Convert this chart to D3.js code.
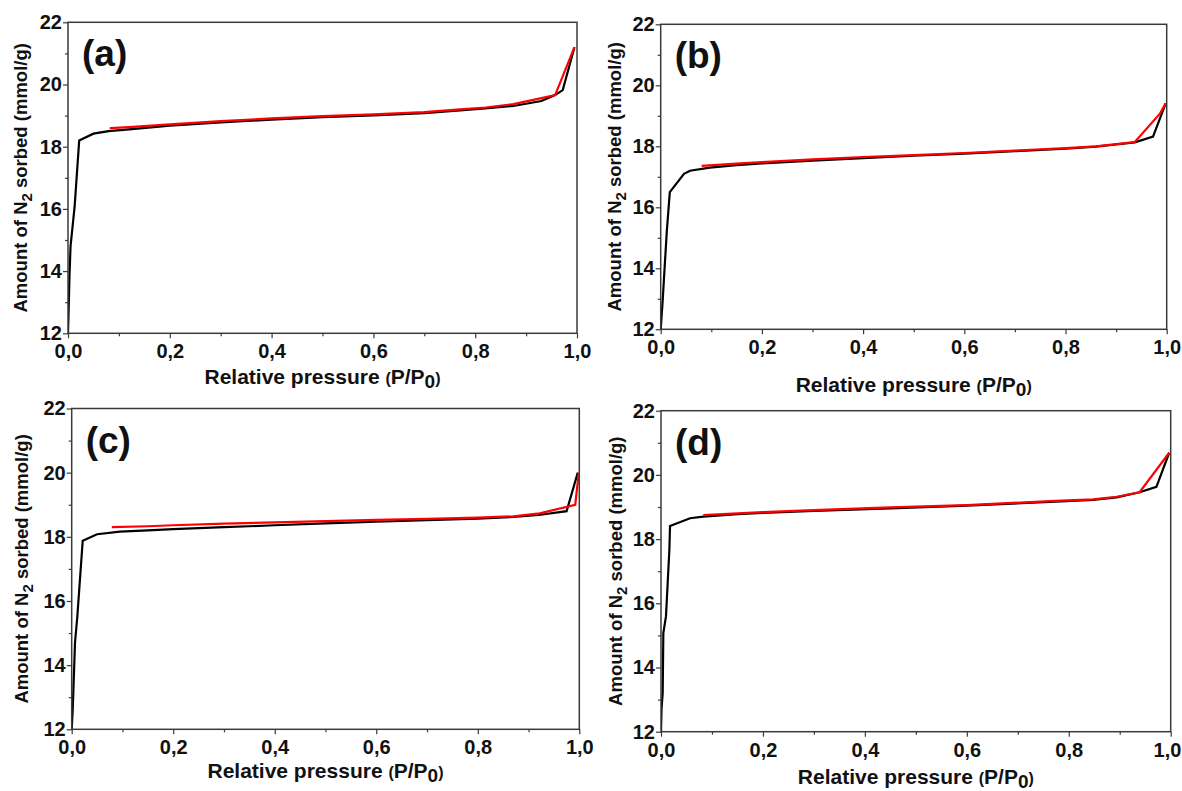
<!DOCTYPE html>
<html>
<head>
<meta charset="utf-8">
<script src="https://cdn.jsdelivr.net/npm/d3@7"></script>
<style>
  html, body { margin: 0; padding: 0; background: #fff; }
  svg { display: block; }
  text { font-family: "Liberation Sans", Arial, sans-serif; font-weight: bold; fill: #111; }
</style>
</head>
<body>
<svg id="chart" width="1182" height="791"></svg>
<script>
// ---------- data ----------
const panelLabels = ["(a)", "(b)", "(c)", "(d)"];
const xTickValues = [0, 0.2, 0.4, 0.6, 0.8, 1.0];
const xMinorTicks = [0.1, 0.3, 0.5, 0.7, 0.9];
const yTickValues = [12, 14, 16, 18, 20, 22];
const yMinorTicks = [13, 15, 17, 19, 21];

// (a)
const pressA_ads = [0, 0.001, 0.003, 0.005, 0.013, 0.022, 0.05, 0.08, 0.12, 0.2, 0.3, 0.4, 0.5, 0.6, 0.7, 0.77, 0.82, 0.875, 0.93, 0.957, 0.972, 0.995];
const amtA_ads   = [12.0, 12.6, 13.9, 14.8, 16.07, 18.2, 18.42, 18.5, 18.56, 18.68, 18.78, 18.87, 18.95, 19.01, 19.08, 19.17, 19.23, 19.31, 19.47, 19.66, 19.82, 21.2];
const pressA_des = [0.082, 0.12, 0.2, 0.3, 0.4, 0.5, 0.6, 0.7, 0.77, 0.82, 0.875, 0.921, 0.957, 0.995];
const amtA_des   = [18.6, 18.63, 18.72, 18.82, 18.91, 18.98, 19.04, 19.11, 19.2, 19.26, 19.37, 19.53, 19.66, 21.2];

// (b)
const pressB_ads = [0, 0.004, 0.0066, 0.012, 0.018, 0.046, 0.058, 0.097, 0.15, 0.2, 0.3, 0.4, 0.5, 0.6, 0.7, 0.8, 0.86, 0.9, 0.937, 0.973, 0.998];
const amtB_ads   = [12.0, 12.96, 13.7, 15.2, 16.5, 17.1, 17.2, 17.3, 17.38, 17.44, 17.53, 17.61, 17.69, 17.76, 17.84, 17.92, 17.99, 18.06, 18.13, 18.32, 19.41];
const pressB_des = [0.081, 0.15, 0.2, 0.3, 0.4, 0.5, 0.6, 0.7, 0.8, 0.86, 0.9, 0.937, 0.987, 0.998];
const amtB_des   = [17.36, 17.43, 17.48, 17.57, 17.65, 17.71, 17.78, 17.86, 17.94, 18.0, 18.07, 18.14, 19.08, 19.41];

// (c)
const pressC_ads = [0, 0.002, 0.0065, 0.011, 0.0217, 0.05, 0.095, 0.15, 0.2, 0.3, 0.4, 0.5, 0.6, 0.7, 0.8, 0.87, 0.92, 0.975, 0.997];
const amtC_ads   = [12.0, 12.6, 14.7, 15.5, 17.88, 18.08, 18.16, 18.2, 18.24, 18.3, 18.36, 18.42, 18.47, 18.52, 18.57, 18.62, 18.68, 18.8, 20.0];
const pressC_des = [0.079, 0.15, 0.2, 0.3, 0.4, 0.5, 0.6, 0.7, 0.8, 0.87, 0.922, 0.992, 0.999];
const amtC_des   = [18.3, 18.33, 18.36, 18.41, 18.45, 18.49, 18.53, 18.56, 18.6, 18.64, 18.73, 19.0, 20.0];

// (d)
const pressD_ads = [0, 0.001, 0.0033, 0.0046, 0.0098, 0.0164, 0.0177, 0.057, 0.083, 0.15, 0.2, 0.3, 0.45, 0.6, 0.763, 0.848, 0.894, 0.939, 0.972, 0.997];
const amtD_ads   = [12.0, 12.7, 13.2, 15.07, 15.6, 17.66, 18.41, 18.65, 18.7, 18.78, 18.82, 18.88, 18.96, 19.04, 19.16, 19.22, 19.3, 19.46, 19.63, 20.69];
const pressD_des = [0.083, 0.15, 0.2, 0.3, 0.45, 0.6, 0.763, 0.848, 0.894, 0.939, 0.997];
const amtD_des   = [18.75, 18.8, 18.84, 18.9, 18.99, 19.06, 19.18, 19.24, 19.32, 19.46, 20.69];

// ---------- layout ----------
const W = 1182;
const panels = [
  { label: panelLabels[0], x0: 68,    x1: 577,    y0: 22.3,  y1: 333.3, ylabX: 20,  xlabY: 384,
    ads: [pressA_ads, amtA_ads], des: [pressA_des, amtA_des] },
  { label: panelLabels[1], x0: 660.7, x1: 1166.7, y0: 24.3,  y1: 329.3, ylabX: 614, xlabY: 392,
    ads: [pressB_ads, amtB_ads], des: [pressB_des, amtB_des] },
  { label: panelLabels[2], x0: 71.7,  x1: 579.3,  y0: 408.5, y1: 729.3, ylabX: 21,  xlabY: 778,
    ads: [pressC_ads, amtC_ads], des: [pressC_des, amtC_des] },
  { label: panelLabels[3], x0: 661,   x1: 1170.7, y0: 410.7, y1: 731.7, ylabX: 615, xlabY: 784,
    ads: [pressD_ads, amtD_ads], des: [pressD_des, amtD_des] }
];

const svg = d3.select("#chart");
const fmt = d => d3.format(".1f")(d).replace(".", ",");

panels.forEach(p => {
  const x = d3.scaleLinear().domain([0, 1]).range([p.x0, p.x1]);
  const y = d3.scaleLinear().domain([12, 22]).range([p.y1, p.y0]);
  const g = svg.append("g");

  const clipId = "clip" + p.label.replace(/[()]/g, "");
  svg.append("clipPath").attr("id", clipId)
    .append("rect").attr("x", p.x0).attr("y", p.y0 - 1)
    .attr("width", p.x1 - p.x0 + 1).attr("height", p.y1 - p.y0 + 1);

  const line = d3.line().x(d => x(d[0])).y(d => y(d[1]));
  const ads = d3.zip(p.ads[0], p.ads[1]);
  const des = d3.zip(p.des[0], p.des[1]);
  g.append("path").datum(ads).attr("d", line)
    .attr("fill", "none").attr("stroke", "#000").attr("stroke-width", 2.2)
    .attr("stroke-linejoin", "miter").attr("clip-path", `url(#${clipId})`);
  g.append("path").datum(des).attr("d", line)
    .attr("fill", "none").attr("stroke", "#ff0000").attr("stroke-width", 2.2)
    .attr("stroke-linejoin", "miter").attr("clip-path", `url(#${clipId})`);

  g.append("rect").attr("x", p.x0).attr("y", p.y0)
    .attr("width", p.x1 - p.x0).attr("height", p.y1 - p.y0)
    .attr("fill", "none").attr("stroke", "#3a3a3a").attr("stroke-width", 1.5);

  const xAxis = d3.axisBottom(x).tickValues(xTickValues).tickFormat(fmt).tickSize(5).tickPadding(6);
  const xMinor = d3.axisBottom(x).tickValues(xMinorTicks).tickFormat("").tickSize(3);
  const yAxis = d3.axisLeft(y).tickValues(yTickValues).tickFormat(d3.format("d")).tickSize(5).tickPadding(1);
  const yMinor = d3.axisLeft(y).tickValues(yMinorTicks).tickFormat("").tickSize(3);

  [[xAxis, `translate(0,${p.y1})`], [xMinor, `translate(0,${p.y1})`],
   [yAxis, `translate(${p.x0},0)`], [yMinor, `translate(${p.x0},0)`]].forEach(([ax, tr]) => {
    const a = g.append("g").attr("transform", tr).call(ax);
    a.select(".domain").remove();
    a.selectAll("line").attr("stroke", "#3a3a3a").attr("stroke-width", 1.2);
    a.selectAll("text").attr("font-size", 20).attr("font-family", "Liberation Sans, Arial, sans-serif")
      .attr("font-weight", "bold").attr("fill", "#111");
  });

  // keep the last x tick label inside the page
  if (p.x1 + 14 > W) {
    g.selectAll(".tick text").filter(d => d === 1.0).attr("dx", -(p.x1 + 14 - W + 1));
  }

  g.append("text").attr("x", p.x0 + 14).attr("y", p.y0 + 44)
    .attr("font-size", 37).text(p.label);

  const yl = g.append("text")
    .attr("transform", `translate(${p.ylabX + 7},${(p.y0 + p.y1) / 2}) rotate(-90)`)
    .attr("text-anchor", "middle").attr("font-size", 18.5);
  yl.append("tspan").text("Amount of N");
  yl.append("tspan").attr("font-size", 15).attr("dy", 5).text("2");
  yl.append("tspan").attr("dy", -5).text(" sorbed (mmol/g)");

  const xl = g.append("text")
    .attr("x", (p.x0 + p.x1) / 2).attr("y", p.xlabY)
    .attr("text-anchor", "middle").attr("font-size", 21);
  xl.append("tspan").text("Relative pressure ");
  xl.append("tspan").attr("font-size", 16).text("(");
  xl.append("tspan").text("P/P");
  xl.append("tspan").attr("font-size", 19).attr("dy", 4).text("0");
  xl.append("tspan").attr("font-size", 16).attr("dy", -4).text(")");
});
</script>
</body>
</html>
